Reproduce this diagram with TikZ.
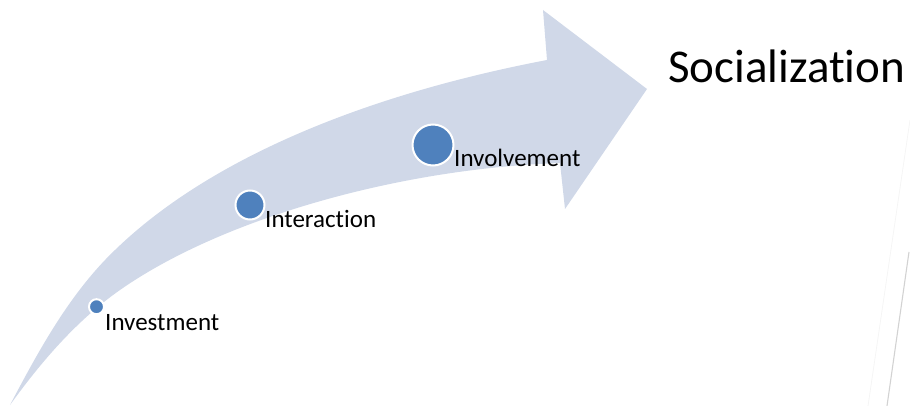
\documentclass[tikz,border=0pt]{standalone}
\usepackage{fontspec}
\setmainfont[Ligatures={NoCommon,NoContextual}]{Carlito}
\definecolor{arrowfill}{HTML}{D0D8E8}
\definecolor{dotblue}{HTML}{4F81BD}
\tikzset{
  dot/.style={circle, fill=dotblue, draw=white, line width=2pt, inner sep=0pt},
  lbl/.style={anchor=base west, inner sep=0pt, font=\fontsize{25}{30}\selectfont},
  bigtitle/.style={anchor=base west, inner sep=0pt, font=\fontsize{47}{56}\selectfont},
}
\begin{document}
\begin{tikzpicture}[x=1pt,y=-1pt]
\useasboundingbox (0,0) rectangle (910,406);
% curved arrow
\fill[arrowfill]
  (10,405) .. controls (39,350) and (70,293) .. (115,250)
  .. controls (212,156) and (371,93.5) .. (547,60)
  -- (543,10) -- (647,89) -- (565,209) -- (560,163)
  .. controls (396.6,168.7) and (220.6,219.5) .. (120,290)
  .. controls (76.6,320.4) and (41,362) .. (10,405)
  -- cycle;
% faint lines at right edge
\draw[gray!8, line width=0.8pt] (910,120) -- (868,406);
\draw[gray!35, line width=1.1pt] (909,252) -- (887,406);
% dots
\node[dot, minimum size=15pt] (d1) at (96.5,306.7) {};
\node[dot, minimum size=29pt] (d2) at (250,205) {};
\node[dot, minimum size=41pt] (d3) at (433,145) {};
% labels
\node[lbl] (l1) at (105,330) {Investment};
\node[lbl] (l2) at (265,228) {Interaction};
\node[lbl] (l3) at (454,167) {Involvement};
\node[bigtitle] (t) at (668,83) {Socialization};
\end{tikzpicture}
\end{document}
